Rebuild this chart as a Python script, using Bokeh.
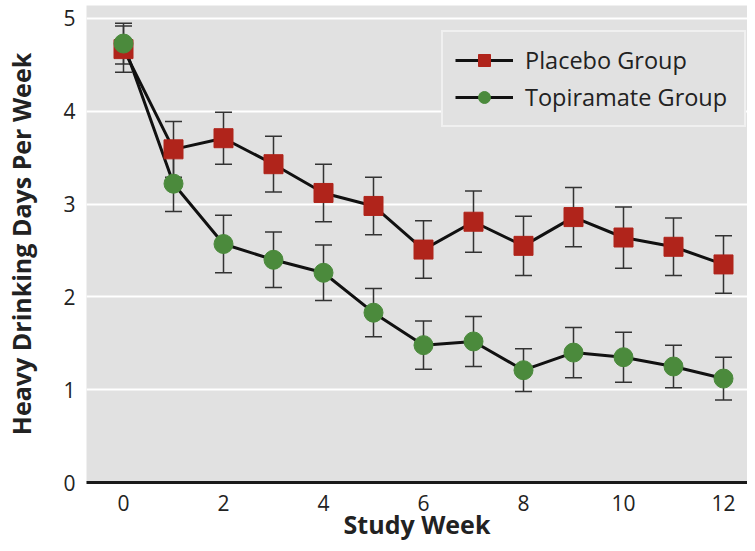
from bokeh.plotting import figure
from bokeh.models import ColumnDataSource, Whisker, TeeHead, Range1d, FixedTicker, Legend, LegendItem
from bokeh.embed import file_html
from bokeh.resources import INLINE

weeks = list(range(13))
placebo = [4.67, 3.59, 3.71, 3.43, 3.12, 2.98, 2.51, 2.81, 2.55, 2.86, 2.64, 2.54, 2.35]
placebo_err = [0.25, 0.30, 0.28, 0.30, 0.31, 0.31, 0.31, 0.33, 0.32, 0.32, 0.33, 0.31, 0.31]
topiramate = [4.73, 3.22, 2.57, 2.40, 2.26, 1.83, 1.48, 1.52, 1.21, 1.40, 1.35, 1.25, 1.12]
topiramate_err = [0.22, 0.30, 0.31, 0.30, 0.30, 0.26, 0.26, 0.27, 0.23, 0.27, 0.27, 0.23, 0.23]
x_ticks = [0, 2, 4, 6, 8, 10, 12]
y_ticks = [0, 1, 2, 3, 4, 5]
x_title = "Study Week"
y_title = "Heavy Drinking Days Per Week"

FONT = "Open Sans"
RED = "#b0241b"
GREEN = "#4b8a3c"
BG = "#e1e1e1"
TXT = "#222222"

p = figure(width=747, height=543, output_backend="svg", toolbar_location=None,
           x_range=Range1d(-0.74, 12.48), y_range=Range1d(0, 5.14),
           min_border_left=86, min_border_right=0, min_border_top=5, min_border_bottom=61)
p.background_fill_color = BG
p.border_fill_color = "white"
p.outline_line_color = None

p.xgrid.grid_line_color = None
p.ygrid.grid_line_color = "white"
p.ygrid.grid_line_width = 2
p.ygrid.ticker = FixedTicker(ticks=y_ticks)

p.xaxis.ticker = FixedTicker(ticks=x_ticks)
p.yaxis.ticker = FixedTicker(ticks=y_ticks)
p.xaxis.axis_line_width = 3
p.xaxis.axis_line_color = "#1a1a1a"
p.yaxis.axis_line_color = None
for ax in (p.xaxis, p.yaxis):
    ax.major_tick_line_color = None
    ax.minor_tick_line_color = None
    ax.major_tick_out = 0
    ax.major_tick_in = 0
    ax.minor_tick_out = 0
    ax.minor_tick_in = 0
    ax.major_label_text_font = FONT
    ax.major_label_text_font_size = "21px"
    ax.major_label_text_color = TXT
    ax.axis_label_text_font = FONT
    ax.axis_label_text_font_size = "25px"
    ax.axis_label_text_font_style = "bold"
    ax.axis_label_text_color = TXT
p.xaxis.axis_label = x_title
p.yaxis.axis_label = y_title
p.xaxis.major_label_standoff = 12
p.xaxis.axis_label_text_line_height = 0.9
p.xaxis.axis_label_standoff = -7
p.yaxis.major_label_standoff = 11
p.yaxis.axis_label_standoff = 22

src_p = ColumnDataSource(dict(x=weeks, y=placebo,
                              lo=[v - e for v, e in zip(placebo, placebo_err)],
                              hi=[v + e for v, e in zip(placebo, placebo_err)]))
src_t = ColumnDataSource(dict(x=weeks, y=topiramate,
                              lo=[v - e for v, e in zip(topiramate, topiramate_err)],
                              hi=[v + e for v, e in zip(topiramate, topiramate_err)]))

for src in (src_p, src_t):
    w = Whisker(base="x", lower="lo", upper="hi", source=src,
                line_color="#333333", line_width=1.5,
                upper_head=TeeHead(size=17, line_color="#333333", line_width=1.5),
                lower_head=TeeHead(size=17, line_color="#333333", line_width=1.5))
    p.add_layout(w)

lp = p.line("x", "y", source=src_p, line_color="#111111", line_width=3)
lt = p.line("x", "y", source=src_t, line_color="#111111", line_width=3)
sp = p.scatter("x", "y", source=src_p, marker="square", size=19, fill_color=RED, line_color=RED)
st = p.scatter("x", "y", source=src_t, marker="circle", size=19, fill_color=GREEN, line_color=GREEN)

legend = Legend(items=[LegendItem(label="Placebo Group", renderers=[lp, sp]),
                       LegendItem(label="Topiramate Group", renderers=[lt, st])],
                location=(355, 355))
legend.label_text_font = FONT
legend.label_text_font_size = "23.5px"
legend.label_text_color = TXT
legend.background_fill_color = BG
legend.background_fill_alpha = 1
legend.border_line_color = "white"
legend.border_line_width = 2
legend.glyph_width = 58
legend.glyph_height = 30
legend.label_standoff = 12
legend.label_width = 207
legend.padding = 12
legend.spacing = 5
legend.margin = 0
p.add_layout(legend)

open("out.html", "w").write(file_html(p, INLINE))
